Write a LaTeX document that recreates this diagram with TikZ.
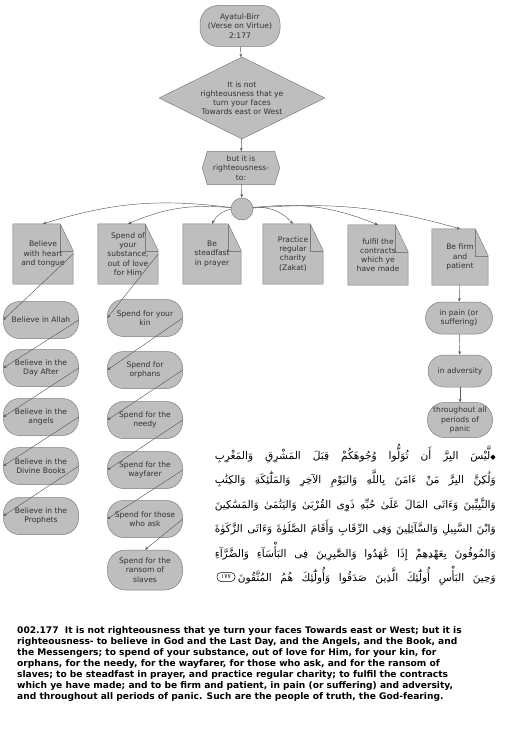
\documentclass[tikz,border=0pt]{standalone}
\usepackage{fontspec}
\setmainfont{DejaVu Sans}
\newfontfamily\arabicfont[Script=Arabic]{DejaVu Sans}
\TeXXeTstate=1
\usetikzlibrary{shapes.geometric,arrows.meta,backgrounds}
\definecolor{boxfill}{RGB}{190,190,190}
\definecolor{boxline}{RGB}{125,125,125}
\definecolor{linec}{RGB}{90,90,90}
\definecolor{txt}{RGB}{50,50,50}
\newcommand{\arline}[2][281pt]{\makebox[#1][s]{\arabicfont\beginR #2\endR}}
\begin{document}
\begin{tikzpicture}[x=1pt,y=-1pt,
  every node/.style={font=\fontsize{7.6}{9.2}\selectfont, text=txt, align=center, inner sep=0pt},
  shapefill/.style={fill=boxfill, draw=boxline, line width=0.5pt},
  pill/.style={rectangle, rounded corners=16pt, shapefill, minimum width=75pt, minimum height=37pt},
  notebox/.style={minimum width=60pt, minimum height=60pt},
  conn/.style={draw=linec, line width=0.45pt, -{Stealth[length=3.5pt,width=2.8pt]}},
  arstyle/.style={anchor=base east, text=black, font=\fontsize{10.6}{12}\selectfont},
]
\useasboundingbox (0,0) rectangle (505,752);

% top flow
\node[pill, minimum width=80pt, minimum height=41pt, rounded corners=18pt] (top) at (240,26) {Ayatul-Birr\\(Verse on Virtue)\\2:177};
\node[diamond, aspect=2, shapefill, minimum width=166pt, minimum height=82pt] (dia) at (242,98) {It is not\\righteousness that ye\\turn your faces\\Towards east or West};
\node[minimum width=67pt, minimum height=33pt] (hex) at (241,168) {but it is\\righteousness-\\to:};
\node[circle, shapefill, minimum size=22pt] (hub) at (242,209) {};

% notes
\node[notebox] (n1) at (43,254) {Believe\\with heart\\and tongue};
\node[notebox] (n2) at (128,254) {Spend of\\your\\substance,\\out of love\\for Him};
\node[notebox, minimum width=58pt] (n3) at (212,254) {Be\\steadfast\\in prayer};
\node[notebox] (n4) at (293,254) {Practice\\regular\\charity\\(Zakat)};
\node[notebox] (n5) at (378,255) {fulfil the\\contracts\\which ye\\have made};
\node[notebox, minimum width=56pt, minimum height=56pt] (n6) at (460,257) {Be firm\\and\\patient};

\begin{scope}[on background layer]
  \draw[shapefill] (hex.north west) -- (hex.north east) -- ([xshift=5pt]hex.east) -- (hex.south east) -- (hex.south west) -- ([xshift=-5pt]hex.west) -- cycle;
  \foreach \n in {n1,n2,n3,n4,n5,n6} {
    \draw[shapefill] (\n.north west) -- ([xshift=-13pt]\n.north east) -- ([yshift=-27pt]\n.north east) -- (\n.south east) -- (\n.south west) -- cycle;
    \draw[boxline, line width=0.4pt] ([xshift=-13pt]\n.north east) -- ([xshift=-13pt,yshift=-27pt]\n.north east) -- ([yshift=-27pt]\n.north east);
  }
\end{scope}

% left column
\node[pill] (a1) at (41,320) {Believe in Allah};
\node[pill] (a2) at (41,368) {Believe in the\\Day After};
\node[pill] (a3) at (41,417) {Believe in the\\angels};
\node[pill] (a4) at (41,466) {Believe in the\\Divine Books};
\node[pill] (a5) at (41,516) {Believe in the\\Prophets};

% spend column
\node[pill] (s1) at (145,318) {Spend for your\\kin};
\node[pill] (s2) at (145,370) {Spend for\\orphans};
\node[pill] (s3) at (145,420) {Spend for the\\needy};
\node[pill] (s4) at (145,470) {Spend for the\\wayfarer};
\node[pill] (s5) at (145,519) {Spend for those\\who ask};
\node[pill, minimum height=40pt, rounded corners=18pt] (s6) at (145,570) {Spend for the\\ransom of\\slaves};

% right column
\node[pill, minimum width=67pt, minimum height=32pt] (p1) at (459,318) {in pain (or\\suffering)};
\node[pill, minimum width=64pt, minimum height=32pt] (p2) at (460,371) {in adversity};
\node[pill, minimum width=65pt, minimum height=35pt, rounded corners=17pt] (p3) at (460,420) {throughout all\\periods of\\panic};

% connectors
\draw[conn] (top) -- (dia);
\draw[conn] (dia) -- (hex);
\draw[conn] (hex) -- (hub);
\draw[conn] (hub) to[bend right=12] (n1.north);
\draw[conn] (hub) to[bend right=14] (n2.north);
\draw[conn] (hub) to[bend right=25] (n3.north);
\draw[conn] (hub) to[bend left=25] (n4.north);
\draw[conn] (hub) to[bend left=14] (n5.north);
\draw[conn] (hub) to[bend left=10] (n6.north);

\draw[conn] (n1.east) -- (a1.west);
\foreach \u/\v in {a1/a2,a2/a3,a3/a4,a4/a5} \draw[conn] (\u.east) -- (\v.west);
\draw[conn] (n2.east) -- (s1.west);
\foreach \u/\v in {s1/s2,s2/s3,s3/s4,s4/s5} \draw[conn] (\u.east) -- (\v.west);
\draw[conn] (s5.east) -- (s6.north);
\draw[conn] (n6) -- (p1);
\draw[conn] (p1) -- (p2);
\draw[conn] (p2) -- (p3);

% Arabic verse
\node[arstyle] (ar1) at (496,459) {\arline{{\fontsize{7}{8}\selectfont ◆}لَّيْسَ البِرَّ أَن تُوَلُّوا وُجُوهَكُمْ قِبَلَ المَشْرِقِ وَالمَغْرِبِ}};
\node[arstyle] (ar2) at (496,483) {\arline{وَلَٰكِنَّ البِرَّ مَنْ ءَامَنَ بِاللَّهِ وَاليَوْمِ الآخِرِ وَالمَلَٰٓئِكَةِ وَالكِتَٰبِ}};
\node[arstyle] (ar3) at (496,508) {\arline{وَالنَّبِيِّينَ وَءَاتَى المَالَ عَلَىٰ حُبِّهِ ذَوِى القُرْبَىٰ وَاليَتَٰمَىٰ وَالمَسَٰكِينَ}};
\node[arstyle] (ar4) at (496,532) {\arline{وَابْنَ السَّبِيلِ وَالسَّآئِلِينَ وَفِى الرِّقَابِ وَأَقَامَ الصَّلَوٰةَ وَءَاتَى الزَّكَوٰةَ}};
\node[arstyle] (ar5) at (496,557) {\arline{وَالمُوفُونَ بِعَهْدِهِمْ إِذَا عَٰهَدُوا وَالصَّٰبِرِينَ فِى البَأْسَآءِ وَالضَّرَّآءِ}};
\node[arstyle] (ar6) at (496,581) {\arline[258pt]{وَحِينَ البَأْسِ أُولَٰٓئِكَ الَّذِينَ صَدَقُوا وَأُولَٰٓئِكَ هُمُ المُتَّقُونَ}};
\node[rounded corners=4pt, draw=black, line width=0.5pt, minimum width=18pt, minimum height=9pt, text=black, font=\arabicfont\fontsize{6}{7}\selectfont] (ayah) at (226,577) {\beginR ١٧٧\endR};

% English verse
\node[anchor=north west, align=left, text=black, font=\fontsize{9.1}{11}\selectfont\bfseries] (verse) at (17,626) {002.177\ \ It is not righteousness that ye turn your faces Towards east or West; but it is\\
righteousness- to believe in God and the Last Day, and the Angels, and the Book, and\\
the Messengers; to spend of your substance, out of love for Him, for your kin, for\\
orphans, for the needy, for the wayfarer, for those who ask, and for the ransom of\\
slaves; to be steadfast in prayer, and practice regular charity; to fulfil the contracts\\
which ye have made; and to be firm and patient, in pain (or suffering) and adversity,\\
and throughout all periods of panic. Such are the people of truth, the God-fearing.};
\end{tikzpicture}
\end{document}
